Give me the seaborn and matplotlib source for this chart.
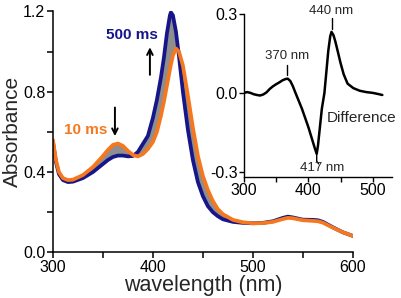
import numpy as np
import pandas as pd
import seaborn as sns
import matplotlib.pyplot as plt

# spectra
wavelength = [300, 303, 306, 310, 315, 320, 330, 340, 350, 355, 360, 365, 370, 375,
              380, 385, 390, 395, 400, 404, 408, 411, 414, 417, 418, 420, 423, 426,
              430, 435, 440, 445, 450, 455, 460, 465, 470, 480, 490, 500, 510, 520,
              530, 535, 540, 550, 560, 565, 570, 580, 590, 600]
abs_500ms = [0.55, 0.45, 0.39, 0.36, 0.35, 0.352, 0.37, 0.40, 0.44, 0.46, 0.475, 0.482,
             0.482, 0.478, 0.48, 0.50, 0.54, 0.58, 0.67, 0.76, 0.87, 0.97, 1.09, 1.18,
             1.195, 1.18, 1.10, 0.98, 0.80, 0.61, 0.46, 0.35, 0.28, 0.23, 0.20, 0.18,
             0.165, 0.152, 0.147, 0.145, 0.147, 0.155, 0.172, 0.178, 0.174, 0.163,
             0.162, 0.16, 0.152, 0.125, 0.10, 0.082]
abs_10ms = [0.56, 0.46, 0.40, 0.37, 0.36, 0.362, 0.385, 0.425, 0.48, 0.51, 0.535, 0.542,
            0.53, 0.505, 0.485, 0.478, 0.49, 0.515, 0.55, 0.60, 0.68, 0.75, 0.83, 0.91,
            0.935, 0.98, 1.015, 1.0, 0.93, 0.78, 0.62, 0.48, 0.38, 0.31, 0.255, 0.215,
            0.19, 0.162, 0.15, 0.145, 0.146, 0.152, 0.166, 0.172, 0.17, 0.16, 0.157,
            0.155, 0.148, 0.123, 0.10, 0.082]

diff_wl = [300, 305, 310, 315, 320, 325, 330, 335, 340, 345, 350, 355, 360, 365, 368,
           372, 376, 380, 385, 390, 395, 400, 405, 410, 413, 415, 418, 421, 425, 428,
           431, 434, 436, 439, 442, 446, 450, 455, 461, 470, 480, 490, 500, 508, 515]
diff_abs = [0.0, 0.003, 0.0, -0.005, -0.008, -0.01, -0.006, 0.002, 0.015, 0.025, 0.033,
            0.04, 0.048, 0.053, 0.054, 0.045, 0.025, 0.0, -0.03, -0.06, -0.095, -0.13,
            -0.17, -0.21, -0.232, -0.2, -0.13, -0.06, 0.0, 0.08, 0.16, 0.215, 0.232,
            0.22, 0.195, 0.155, 0.114, 0.07, 0.035, 0.018, 0.008, 0.003, 0.0, -0.004,
            -0.008]

navy = "#16168a"
orange = "#f5781e"

sns.set_style("ticks")
plt.rcParams["font.family"] = ["Liberation Sans", "DejaVu Sans"]

df = pd.DataFrame({"wl": wavelength, "a500": abs_500ms, "a10": abs_10ms})
dfd = pd.DataFrame({"wl": diff_wl, "d": diff_abs})

fig = plt.figure(figsize=(4.01, 2.98), dpi=100)
ax = fig.add_axes([0.132, 0.153, 0.748, 0.809])

ax.fill_between(df["wl"], df["a500"], df["a10"], color="#8e8e8e", lw=0)
sns.lineplot(data=df, x="wl", y="a500", color=navy, lw=2.7, ax=ax)
sns.lineplot(data=df, x="wl", y="a10", color=orange, lw=2.7, ax=ax)

ax.set_xlim(300, 600)
ax.set_ylim(0, 1.2)
ax.set_xticks([300, 400, 500, 600])
ax.set_xticks([350, 450, 550], minor=True)
ax.set_yticks([0.0, 0.4, 0.8, 1.2])
ax.set_yticks([0.2, 0.6, 1.0], minor=True)
ax.set_yticklabels(["0.0", "0.4", "0.8", "1.2"])
ax.tick_params(which="both", direction="out", length=4, width=1.1, labelsize=11.5,
               color="black", labelcolor="black", pad=1.5)
for s in ["left", "bottom"]:
    ax.spines[s].set_linewidth(1.1)
    ax.spines[s].set_color("black")
sns.despine(ax=ax)
ax.set_xlabel("wavelength (nm)", fontsize=15.5, labelpad=0)
ax.set_ylabel("Absorbance", fontsize=15, labelpad=0.5)

ax.text(379, 1.08, "500 ms", color=navy, fontsize=11, fontweight="bold",
        ha="center", va="center")
ax.annotate("", xy=(397, 1.035), xytext=(397, 0.87),
            arrowprops=dict(arrowstyle="->", color="black", lw=1.4))
ax.text(333, 0.61, "10 ms", color=orange, fontsize=11, fontweight="bold",
        ha="center", va="center")
ax.annotate("", xy=(362, 0.565), xytext=(362, 0.735),
            arrowprops=dict(arrowstyle="->", color="black", lw=1.4))

# inset: difference spectrum
ins = fig.add_axes([0.6085, 0.406, 0.369, 0.547])
ins.patch.set_alpha(0)
sns.lineplot(data=dfd, x="wl", y="d", color="black", lw=1.8, ax=ins)
ins.set_xlim(300, 530)
ins.set_ylim(-0.32, 0.30)
ins.set_xticks([300, 400, 500])
ins.set_xticks([350, 450], minor=True)
ins.set_yticks([-0.3, 0.0, 0.3])
ins.set_yticklabels(["-0.3", "0.0", "0.3"])
ins.tick_params(which="both", direction="out", length=3.5, width=1.0, labelsize=11.5,
                color="black", labelcolor="black", pad=1)
for s in ["left", "bottom"]:
    ins.spines[s].set_linewidth(1.0)
    ins.spines[s].set_color("black")
sns.despine(ax=ins)
ins.set_xlabel("")
ins.set_ylabel("")

ins.text(367, 0.118, "370 nm", fontsize=9.5, ha="center", va="bottom")
ins.plot([367, 367], [0.068, 0.106], color="black", lw=1)
ins.text(436, 0.287, "440 nm", fontsize=9.5, ha="center", va="bottom")
ins.plot([436, 436], [0.243, 0.285], color="black", lw=1)
ins.text(422, -0.31, "417 nm", fontsize=9.5, ha="center", va="bottom")
ins.plot([413, 413, 416], [-0.236, -0.26, -0.27], color="black", lw=1)
ins.text(429, -0.095, "Difference", fontsize=11, ha="left", va="center")

fig.savefig("out.png", dpi=100)
